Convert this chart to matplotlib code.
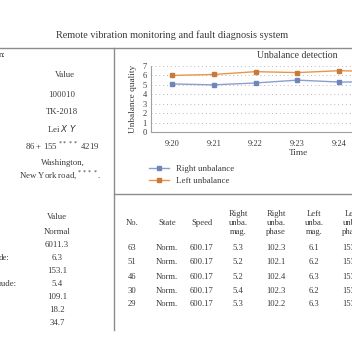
import matplotlib
matplotlib.use("Agg")
import matplotlib.pyplot as plt
from matplotlib.lines import Line2D

plt.rcParams['font.family'] = ['Liberation Serif', 'DejaVu Serif']

times = ['9:20', '9:21', '9:22', '9:23', '9:24', '9:25']
right_unb = [5.1, 5.0, 5.2, 5.5, 5.3, 5.3]
left_unb = [6.0, 6.1, 6.4, 6.3, 6.5, 6.4]

info_values = ['100010', 'TK-2018', 'Lei $X$ $Y$', '86 + 155 $^{****}$ 4219']
addr_lines = ['Washington,', 'New York road, $^{****}$.']
state_values = ['Normal', '6011.3', '6.3', '153.1', '5.4', '109.1', '18.2', '34.7']

col_heads = ['No.', 'State', 'Speed', 'Right\nunba.\nmag.', 'Right\nunba.\nphase',
             'Left\nunba.\nmag.', 'Left\nunba.\nphase']
rows = [
    ['63', 'Norm.', '600.17', '5.3', '102.3', '6.1', '153.2'],
    ['51', 'Norm.', '600.17', '5.2', '102.1', '6.2', '153.1'],
    ['46', 'Norm.', '600.17', '5.2', '102.4', '6.3', '153.3'],
    ['30', 'Norm.', '600.17', '5.4', '102.3', '6.2', '153.2'],
    ['29', 'Norm.', '600.17', '5.3', '102.2', '6.3', '153.1'],
]

W = H = 352
fig = plt.figure(figsize=(3.52, 3.52), dpi=100)
txt = '#3a3a3a'
edge = '#8c8c8c'


def fx(px):
    return px / W


def fy(py):
    return 1 - py / H


def put(x, y, s, size=6.3, ha='center', **kw):
    fig.text(fx(x), fy(y), s, ha=ha, va='center', fontsize=size, color=txt, **kw)


# frame lines
fig.add_artist(Line2D([0, 1], [fy(48), fy(48)], color=edge, lw=1.0))
fig.add_artist(Line2D([fx(114), fx(114)], [fy(48), fy(330)], color=edge, lw=1.0))
fig.add_artist(Line2D([fx(114), 1], [fy(194), fy(194)], color=edge, lw=1.0))

put(172, 35, 'Remote vibration monitoring and fault diagnosis system', size=7.4)

# left panel
put(-1, 55, 'n:', ha='left')
put(65, 75, 'Value')
for i, v in enumerate(info_values):
    put(62, 95 + i * 17, v)
put(63, 163, addr_lines[0])
put(60, 175, addr_lines[1])

put(57, 217, 'Value')
put(-1, 258, 'de:', ha='left')
put(-1, 284, 'rude:', ha='left')
for i, v in enumerate(state_values):
    put(57, 232 + i * 13, v)

# chart
ax = fig.add_axes([fx(151), fy(132), fx(352 - 151), (132 - 66) / H])
xs = list(range(len(times)))
ax.plot(xs, right_unb, color='#8aa0cf', lw=1.0, marker='s', ms=2.6,
        mfc='#6f86bd', mec='#6f86bd', label='Right unbalance')
ax.plot(xs, left_unb, color='#e8954a', lw=1.0, marker='s', ms=2.6,
        mfc='#c87a3a', mec='#c87a3a', label='Left unbalance')
ax.set_xlim(-0.5, (352 - 151) / 41.8 - 0.5)
ax.set_ylim(0, 7)
ax.set_xticks(xs[:5])
ax.set_xticklabels(times[:5])
ax.set_yticks(range(8))
ax.tick_params(length=0, labelsize=6.0, colors=txt, pad=3)
ax.tick_params(axis='x', pad=6)
ax.grid(axis='y', linestyle=(0, (1, 3)), color='#b8b8b8', lw=0.7)
for s in ['top', 'right']:
    ax.spines[s].set_visible(False)
for s in ['left', 'bottom']:
    ax.spines[s].set_color('#a0a0a0')
    ax.spines[s].set_linewidth(0.8)
ax.set_ylabel('Unbalance quality', fontsize=6.7, color=txt, labelpad=4)
put(298, 153, 'Time', size=6.7)
put(297, 56, 'Unbalance detection', size=7.0)
fig.legend(loc='upper left', bbox_to_anchor=(fx(141), fy(157)), frameon=False,
           fontsize=6.4, handlelength=2.2, labelspacing=0.45, labelcolor=txt)

# bottom table
col_x = [132, 167, 202, 238, 276, 314, 352]
row_y = [248, 262, 277, 291, 304]
for cx, h in zip(col_x, col_heads):
    put(cx, 223, h, size=6.2, linespacing=1.25)
for ry, r in zip(row_y, rows):
    for cx, v in zip(col_x, r):
        put(cx, ry, v, size=6.2)

fig.savefig('out.png', dpi=100)
